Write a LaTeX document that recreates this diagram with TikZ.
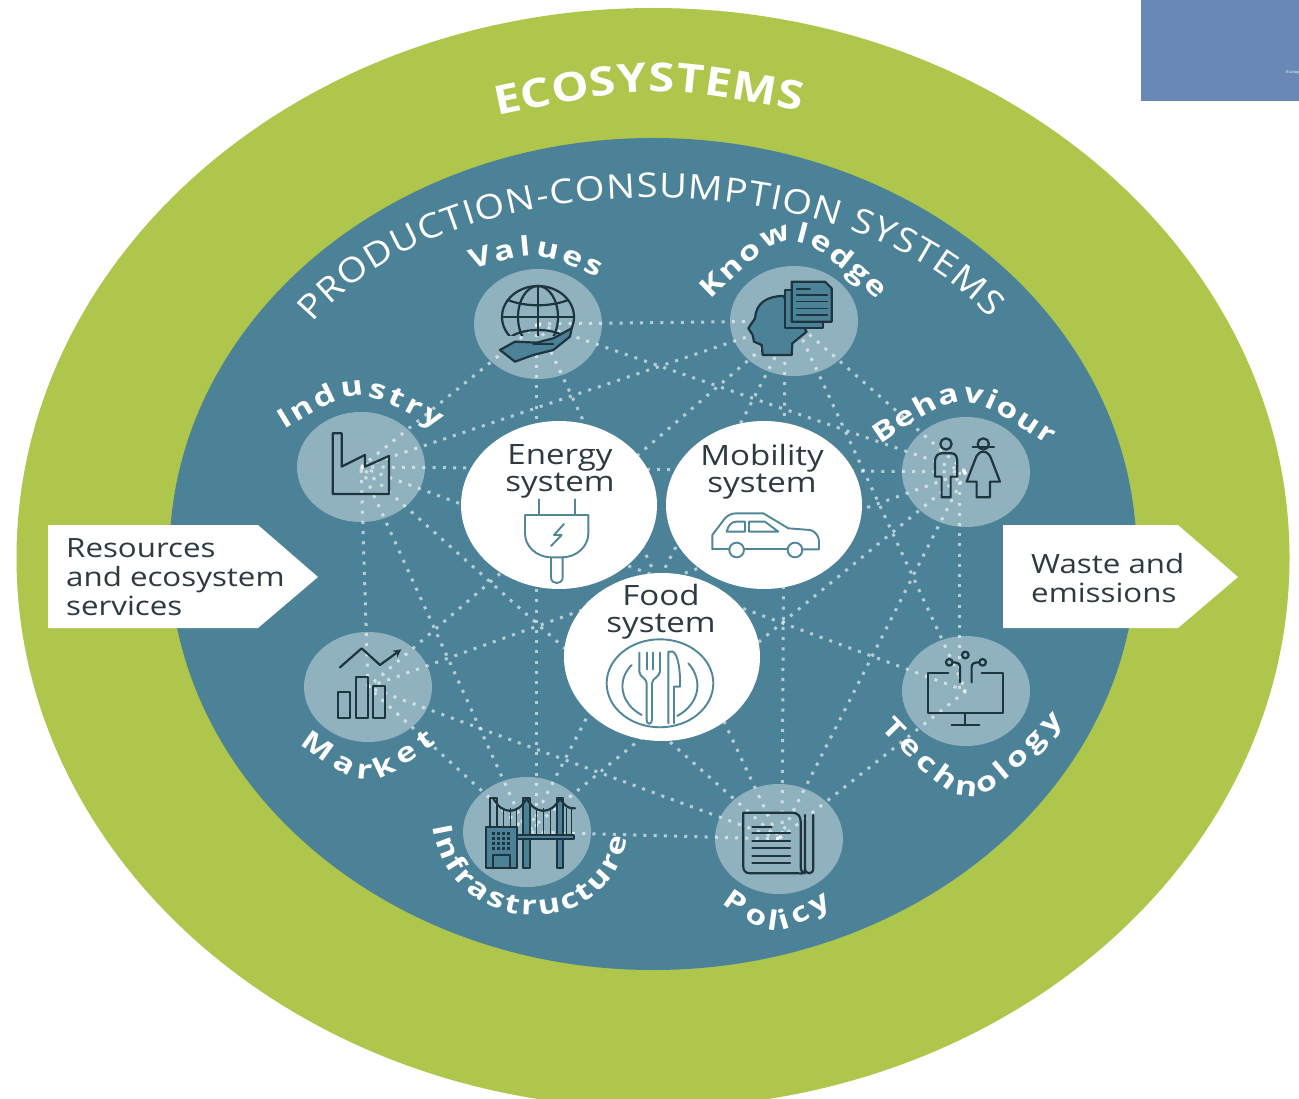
\documentclass[tikz,border=0pt]{standalone}
\usepackage{fontspec}
\usetikzlibrary{shapes.geometric,decorations.text,arrows.meta}
\newfontfamily\regfont[FakeStretch=1.18]{Open Sans}
\newfontfamily\prodfont[FakeStretch=1.12]{Open Sans}
\newfontfamily\boldfont[FakeStretch=1.26]{Open Sans Bold}
\newfontfamily\ecofont[FakeStretch=1.18]{Open Sans Bold}
\newcommand\hubstyle{\boldfont\fontsize{27}{27}\selectfont\color{white}}
\newcommand\prodstyle{\prodfont\fontsize{34}{34}\selectfont\color{white}}
\newcommand\ecostyle{\ecofont\fontsize{40}{40}\selectfont\color{white}}
\definecolor{ecogreen}{HTML}{AEC64B}
\definecolor{prodteal}{HTML}{4C8297}
\definecolor{iconfill}{HTML}{4C8297}
\definecolor{icondark}{HTML}{1E3540}
\definecolor{sysicon}{HTML}{4F8698}
\definecolor{txtdark}{HTML}{2E3A3F}
\definecolor{panelblue}{HTML}{6A88B6}
\pgfdeclarelayer{under}
\pgfsetlayers{under,main}
\tikzset{
  bigring/.style={ellipse,inner sep=0,draw=none},
  hub/.style={ellipse,inner sep=0,minimum width=128,minimum height=110,fill=white,fill opacity=.38,draw=none},
  sysnode/.style={ellipse,inner sep=0,minimum width=196,minimum height=168,fill=white,draw=none},
  systxt/.style={align=center,text=txtdark,font=\regfont\fontsize{28}{27}\selectfont,inner sep=0},
  netline/.style={white,opacity=.6,line width=3pt,dash pattern=on 3pt off 7.2pt},
  arrowbox/.style={fill=white,draw=none},
  boxtxt/.style={align=left,anchor=west,text=txtdark,font=\regfont\fontsize{26.5}{29.3}\selectfont,inner sep=0},
  hubicon/.style={draw=icondark,line width=2.2pt,line join=round,line cap=round},
  sysline/.style={draw=sysicon,line width=1.9pt,line join=round,line cap=round},
  curved/.style={decorate},
  zoomA/.style={shift={(270,220)},x=.3333pt,y=-.3333pt},
  zoomB/.style={shift={(680,220)},x=.3333pt,y=-.3333pt},
  zoomC/.style={shift={(280,620)},x=.3333pt,y=-.3333pt},
  zoomD/.style={shift={(680,620)},x=.3333pt,y=-.3333pt},
  zoomE/.style={shift={(450,420)},x=.3333pt,y=-.3333pt},
}
\begin{document}
\begin{tikzpicture}[x=1pt,y=-1pt]
\useasboundingbox (0,0) rectangle (1299,1099);
% hubs
\node[hub] (values) at (538,324) {};
\node[hub] (knowledge) at (794,321) {};
\node[hub] (behaviour) at (966,472) {};
\node[hub] (technology) at (966,691) {};
\node[hub] (policy) at (779,839) {};
\node[hub] (infra) at (527,832) {};
\node[hub] (market) at (368,687) {};
\node[hub] (industry) at (361,467) {};
% systems
\begin{pgfonlayer}{under}
\clip (0,0) rectangle (1299,1099);
\node[bigring,fill=ecogreen,minimum width=1273,minimum height=1100] (eco) at (653,558) {};
\node[bigring,fill=prodteal,minimum width=967,minimum height=832] (prod) at (653,554) {};
\foreach \a/\b in {values/knowledge,values/behaviour,values/policy,values/industry,
  knowledge/behaviour,knowledge/technology,knowledge/infra,knowledge/market,knowledge/industry,
  behaviour/policy,behaviour/infra,behaviour/market,behaviour/industry,
  technology/policy,technology/industry,
  policy/infra,policy/market,policy/industry,
  infra/market,infra/industry,market/industry}
  \draw[netline] (\a.center) -- (\b.center);
\draw[netline] ([xshift=-2pt]values.center) -- ([xshift=9pt]infra.center);
\draw[netline] ([xshift=-9pt]knowledge.center) -- ([xshift=3pt]policy.center);
\draw[netline] ([xshift=-7pt]behaviour.center) -- ([xshift=-7pt]technology.center);
\end{pgfonlayer}
\node[sysnode] (energy) at (559,505) {};
\node[sysnode] (mobility) at (764,505) {};
\node[sysnode] (food) at (662,657) {};
% corner panel
\node[anchor=north west,fill=panelblue,draw=none,inner sep=0,minimum width=158,minimum height=101] (panel) at (1141,0) {};
\node[anchor=west,text=white,inner sep=0,font=\regfont\fontsize{4}{4}\selectfont] (paneltxt) at (1286,73) {Europ};
% arrows
\fill[arrowbox] (48,525) -- (258,525) -- (318,577) -- (258,628) -- (48,628) -- cycle;
\fill[arrowbox] (1003,525) -- (1178,525) -- (1238,577) -- (1178,628) -- (1003,628) -- cycle;
\node[boxtxt] (restxt) at (66,577) {Resources\\and ecosystem\\services};
\node[boxtxt] (wastetxt) at (1031,578) {Waste and\\emissions};
% system text
\node[systxt] (energytxt) at (560,471.5) {Energy\\[0pt]system};
\node[systxt] (mobilitytxt) at (762,471.5) {Mobility\\[0pt]system};
\node[systxt] (foodtxt) at (661,611.5) {Food\\[0pt]system};
% curved labels
\path[curved,decoration={text along path,text align={fit to path},text={|\ecostyle|ECOSYSTEMS}}]
  (497,116) .. controls (650,84) .. (801,111);
\path[curved,decoration={text along path,text align={fit to path},text={|\prodstyle|PRODUCTION-CONSUMPTION SYSTEMS}}]
  (313,323) .. controls (452,157) and (846,157) .. (990,318);
\path[curved,decoration={text along path,text align={fit to path},text={|\hubstyle|Values}}]
  (472,270) .. controls (537,250) .. (598,278);
\path[curved,decoration={text along path,text align={fit to path},text={|\hubstyle|Knowledge}}]
  (710,300) .. controls (790,222) .. (878,300);
\path[curved,decoration={text along path,text align={fit to path},text={|\hubstyle|Behaviour}}]
  (880,445) .. controls (963,388) .. (1048,445);
\path[curved,decoration={text along path,text align={fit to path},text={|\hubstyle|Industry}}]
  (284,430) .. controls (358,385) .. (437,429);
\path[curved,decoration={text along path,text align={fit to path},text={|\hubstyle|Market}}]
  (300,744) .. controls (367,792) .. (437,743);
\path[curved,decoration={text along path,text align={fit to path},text={|\hubstyle|Infrastructure}}]
  (433,826) .. controls (450,943) and (610,943) .. (627,838);
\path[curved,decoration={text along path,text align={fit to path},text={|\hubstyle|Technology}}]
  (880,728) .. controls (970,820) .. (1064,722);
\path[curved,decoration={text along path,text align={fit to path},text={|\hubstyle|Policy}}]
  (722,903) .. controls (775,940) .. (832,905);
% Values icon
\begin{scope}
\clip (490,280) rectangle (590,336);
\draw[hubicon] (538,317) circle [x radius=36,y radius=31];
\draw[hubicon] (538,317) circle [x radius=20,y radius=31];
\draw[hubicon] (538,286) -- (538,336);
\draw[hubicon] (502,317) -- (574,317);
\draw[hubicon] (508,300) .. controls (525,307) and (551,307) .. (568,300);
\draw[hubicon] (512,336) .. controls (525,328) and (551,328) .. (564,336);
\end{scope}
\begin{scope}[zoomA]
\draw[hubicon,fill=iconfill] (690,390) -- (735,365) -- (800,368) -- (850,355) -- (905,325) -- (900,350) -- (850,390) -- (790,405) -- (735,425) -- cycle;
\draw[hubicon] (790,373) -- (850,373);
% Industry icon
\draw[hubicon] (188,640) -- (215,640) -- (215,740) -- (285,705) -- (285,740) -- (357,708) -- (357,822) -- (188,822) -- cycle;
\end{scope}
% Knowledge icon
\begin{scope}[zoomB]
\draw[hubicon,fill=iconfill] (248,405) -- (245,375) -- (222,365) -- (218,345) -- (205,325) -- (225,295)
  .. controls (228,250) and (260,228) .. (310,228) -- (380,335) -- (337,370) -- (335,405) -- cycle;
\draw[hubicon,fill=iconfill] (315,210) -- (430,210) -- (430,325) -- (315,325) -- cycle;
\draw[hubicon,fill=iconfill] (335,185) -- (435,185) -- (455,205) -- (455,305) -- (335,305) -- cycle;
\foreach \yy in {225,245,265,285} \draw[hubicon,line width=1.6pt] (350,\yy) -- (442,\yy);
\draw[hubicon,line width=1.6pt] (350,207) -- (390,207);
% Behaviour icon
\draw[hubicon] (798,672) circle [radius=17];
\draw[hubicon] (785,832) -- (785,770) -- (765,770) -- (765,725) .. controls (765,708) and (775,700) .. (785,700) -- (815,700) .. controls (825,700) and (832,708) .. (832,725) -- (832,770) -- (812,770) -- (812,832) -- cycle;
\draw[hubicon] (910,672) circle [radius=17];
\draw[hubicon] (878,682) -- (942,682);
\draw[hubicon] (890,832) -- (890,785) -- (860,785) -- (885,720) .. controls (890,703) and (900,695) .. (910,695) .. controls (920,695) and (930,703) .. (935,720) -- (960,785) -- (930,785) -- (930,832) -- cycle;
\end{scope}
% Market icon
\begin{scope}[zoomC]
\draw[hubicon,-{Stealth[length=8pt,width=8pt]}] (180,142) -- (245,85) -- (300,135) -- (364,88);
\draw[hubicon] (175,217) rectangle (210,295);
\draw[hubicon] (228,172) rectangle (263,295);
\draw[hubicon] (280,198) rectangle (315,295);
% Infrastructure icon
\foreach \xx in {650,670,690,710,770,790,810,860,875} \draw[icondark,line width=.7pt] (\xx,565) -- (\xx,645);
\draw[hubicon] (630,535) rectangle (650,625);
\draw[hubicon,fill=iconfill] (730,535) rectangle (750,745);
\draw[hubicon,fill=iconfill] (830,535) rectangle (850,745);
\draw[hubicon] (640,535) .. controls (665,585) and (715,585) .. (740,535);
\draw[hubicon] (740,535) .. controls (765,585) and (815,585) .. (840,535);
\draw[hubicon] (840,535) .. controls (855,560) and (870,568) .. (885,565);
\draw[hubicon,fill=iconfill] (712,645) rectangle (882,656);
\draw[hubicon,fill=iconfill] (617,620) rectangle (712,745);
\foreach \xx in {640,655,670,685} \foreach \yy in {640,655,670,685} \fill[icondark] (\xx-4,\yy-4) rectangle (\xx+4,\yy+4);
\draw[hubicon] (640,745) -- (640,705) -- (690,705) -- (690,745);
\end{scope}
% Policy and Technology icons
\begin{scope}[zoomD]
\draw[hubicon] (375,585) -- (375,745) .. controls (375,765) and (400,765) .. (400,745) -- (400,585);
\draw[hubicon] (375,745) .. controls (375,765) and (365,760) .. (355,760) -- (210,760) .. controls (195,760) and (190,750) .. (190,740) -- (190,578) -- (335,578) .. controls (355,578) and (362,590) .. (362,605) -- (362,740) .. controls (362,752) and (368,760) .. (375,760);
\draw[hubicon] (217,620) -- (275,620);
\foreach \yy in {640,662,685,707,730} \draw[hubicon] (217,\yy) -- (330,\yy);
\draw[hubicon] (805,160) -- (745,160) -- (745,278) -- (968,278) -- (968,160) -- (905,160);
\draw[hubicon] (855,278) -- (855,316);
\draw[hubicon] (815,316) -- (898,316);
\draw[hubicon] (840,187) -- (840,140) .. controls (840,130) and (830,127) .. (819,127);
\draw[hubicon] (875,187) -- (875,140) .. controls (875,130) and (885,127) .. (897,127);
\draw[hubicon] (808,127) circle [radius=10];
\draw[hubicon] (908,127) circle [radius=10];
\draw[hubicon] (856,105) circle [radius=10];
\end{scope}
% System icons
\begin{scope}[zoomE]
\draw[sysline] (268,238) -- (268,285);
\draw[sysline] (375,238) -- (375,285);
\draw[sysline] (225,285) -- (415,285) -- (415,340) .. controls (415,380) and (380,410) .. (340,412) -- (300,412) .. controls (260,410) and (225,380) .. (225,340) -- cycle;
\draw[sysline] (303,412) -- (303,472) .. controls (303,495) and (338,495) .. (338,472) -- (338,412);
\draw[sysline] (342,312) -- (312,345) -- (335,345) -- (303,378);
\draw[sysline] (787,388) -- (787,345) -- (825,295) .. controls (835,285) and (845,280) .. (860,280) -- (940,280) -- (1015,325) -- (1080,330) .. controls (1095,332) and (1107,350) .. (1107,362) -- (1107,388) -- (1060,388);
\draw[sysline] (838,388) -- (787,388);
\draw[sysline] (882,388) -- (1012,388);
\draw[sysline] (860,390) circle [radius=22];
\draw[sysline] (1035,390) circle [radius=22];
\draw[sysline] (830,335) .. controls (835,315) and (845,305) .. (860,305) -- (885,305) -- (885,335) -- cycle;
\draw[sysline] (897,305) -- (945,305) -- (985,335) -- (897,335) -- cycle;
\draw[sysline] (630,790) circle [x radius=160,y radius=132];
\draw[sysline] (545,735) .. controls (500,780) and (510,850) .. (575,885);
\draw[sysline] (715,730) .. controls (760,780) and (750,850) .. (682,888);
\draw[sysline] (568,698) -- (568,755) .. controls (568,770) and (590,775) .. (590,790) -- (590,900) .. controls (590,915) and (606,915) .. (606,900) -- (606,790) .. controls (606,775) and (630,770) .. (630,755) -- (630,698);
\draw[sysline] (590,698) -- (590,748);
\draw[sysline] (608,698) -- (608,748);
\draw[sysline] (655,910) -- (655,695) -- (668,695) .. controls (685,700) and (692,760) .. (690,800) -- (672,800) -- (672,910);
\end{scope}
\end{tikzpicture}
\end{document}
